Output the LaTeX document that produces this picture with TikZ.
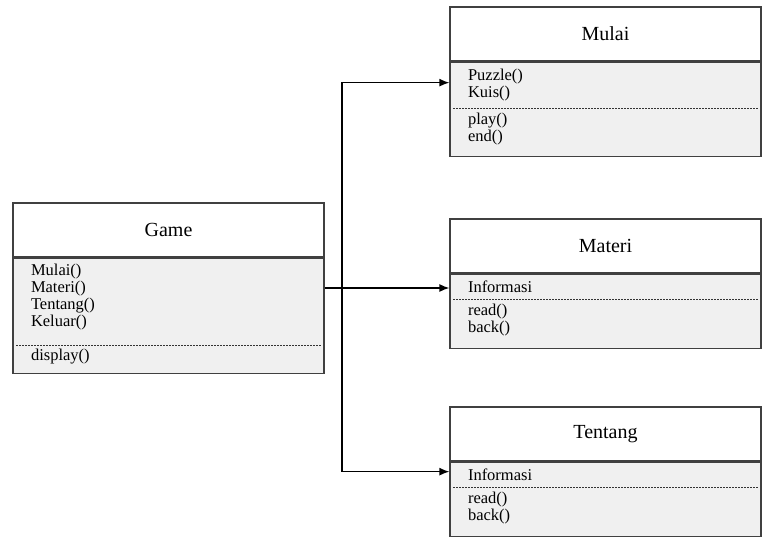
\documentclass[tikz,border=0pt]{standalone}
\usepackage{fontspec}
\setmainfont{Liberation Serif}
\usetikzlibrary{arrows.meta,positioning}

\tikzset{every picture/.style={line width=1.3pt}}

\begin{document}
\begin{tikzpicture}[x=1pt,y=-1pt,
  classhead/.style={draw=black!75,fill=white,minimum width=311pt,minimum height=54pt,inner sep=0pt,font=\fontsize{20}{24}\selectfont},
  classbody/.style={draw=black!75,fill=black!6,minimum width=311pt,inner sep=0pt,anchor=north},
  members/.style={anchor=north west,align=left,inner sep=0pt,font=\fontsize{16.5}{17}\selectfont},
  divider/.style={black!80,line width=0.6pt,dash pattern=on 1.5pt off 1.5pt},
  link/.style={-{Latex[length=10pt,width=8pt]}}]
\useasboundingbox (0,0) rectangle (763,540);

% Game
\node[classhead] (game) at (168.5,230) {Game};
\node[classbody,minimum height=115pt] (gameBody) at (game.south) {};
\node[members] (gameOps) at ([xshift=18pt,yshift=-6pt]gameBody.north west) {Mulai()\\Materi()\\Tentang()\\Keluar()};
\draw[divider] ([xshift=4pt,yshift=-88pt]gameBody.north west) -- ([xshift=-4pt,yshift=-88pt]gameBody.north east);
\node[members] (gameMeth) at ([xshift=18pt,yshift=-91pt]gameBody.north west) {display()};

% Mulai
\node[classhead] (mulai) at (605.5,34) {Mulai};
\node[classbody,minimum height=94pt] (mulaiBody) at (mulai.south) {};
\node[members] (mulaiOps) at ([xshift=18pt,yshift=-7pt]mulaiBody.north west) {Puzzle()\\Kuis()};
\draw[divider] ([xshift=4pt,yshift=-47pt]mulaiBody.north west) -- ([xshift=-4pt,yshift=-47pt]mulaiBody.north east);
\node[members] (mulaiMeth) at ([xshift=18pt,yshift=-51pt]mulaiBody.north west) {play()\\end()};

% Materi
\node[classhead] (materi) at (605.5,246) {Materi};
\node[classbody,minimum height=74pt] (materiBody) at (materi.south) {};
\node[members] (materiAttr) at ([xshift=18pt,yshift=-7pt]materiBody.north west) {Informasi};
\draw[divider] ([xshift=4pt,yshift=-26pt]materiBody.north west) -- ([xshift=-4pt,yshift=-26pt]materiBody.north east);
\node[members] (materiMeth) at ([xshift=18pt,yshift=-30pt]materiBody.north west) {read()\\back()};

% Tentang
\node[classhead] (tentang) at (605.5,434) {Tentang};
\node[classbody,minimum height=74pt] (tentangBody) at (tentang.south) {};
\node[members] (tentangAttr) at ([xshift=18pt,yshift=-7pt]tentangBody.north west) {Informasi};
\draw[divider] ([xshift=4pt,yshift=-26pt]tentangBody.north west) -- ([xshift=-4pt,yshift=-26pt]tentangBody.north east);
\node[members] (tentangMeth) at ([xshift=18pt,yshift=-30pt]tentangBody.north west) {read()\\back()};

% connectors
\coordinate (hub) at (342,288);
\draw (gameBody.east |- hub) -- (hub);
\draw[link] (hub) |- ([yshift=-21pt]mulaiBody.north west);
\draw[link] (hub) -- (hub -| materiBody.west);
\draw[link] (hub) |- ([yshift=-10pt]tentangBody.north west);
\end{tikzpicture}
\end{document}
